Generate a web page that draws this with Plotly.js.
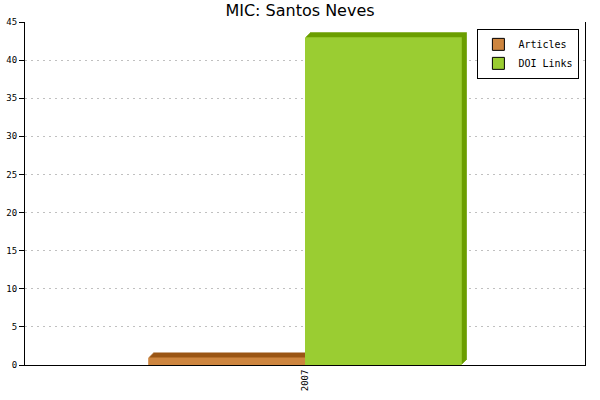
<!DOCTYPE html>
<html>
<head>
<meta charset="utf-8">
<script src="https://cdn.plot.ly/plotly-3.0.1.min.js"></script>
<style>
  html, body {margin:0; padding:0; background:#ffffff;}
  #chart {width:600px; height:400px;}
</style>
</head>
<body>
<div id="chart"></div>
<script>
// chart data
const categories = ['2007'];
const series_names = ['Articles', 'DOI Links'];
const articles = [1];
const doi_links = [43];
const front_colors = ['#CD853F', '#9ACD32'];
const side_colors = ['#9A5514', '#6B9E00'];

///////////////////////////////////////////////////////////////////////////////
function graph_create(container)
{
    let plot_traces = [];
    let bar_w = 0.28;
    let dx = 0.009;    // 3d depth, category units
    let dy = 0.65;     // 3d depth, value units
    let steps = 5;     // stair steps for the slanted corner
    let values = [articles, doi_links];

    // dark "depth" bars go first, front faces on top
    values.forEach((vals, i) => {
        for (let k = 1; k <= steps; k++) {
            let f = k / steps;
            plot_traces.push({
                type: 'bar', x: categories, y: vals,
                base: vals.map(() => dy * f),
                offset: -bar_w + i * bar_w + dx * f, width: bar_w,
                marker: {color: side_colors[i], line: {width: 0}},
                showlegend: false, hoverinfo: 'skip',
            });
        }
    });
    values.forEach((vals, i) => {
        plot_traces.push({
            type: 'bar', name: series_names[i], x: categories, y: vals,
            offset: -bar_w + i * bar_w, width: bar_w,
            marker: {color: front_colors[i], line: {width: 0}},
        });
    });

    let plot_layout =
    {
        width: 600, height: 400,
        barmode: 'overlay',
        font: {family: 'DejaVu Sans Mono', color: 'black', size: 9},
        margin: {l:25, r:15, t:22, b:35},
        plot_bgcolor: 'white',
        paper_bgcolor: 'white',
        title: {
            text: 'MIC: Santos Neves',
            font: {family: 'DejaVu Sans', size: 16, color: 'black'},
            x: 0.5, xanchor: 'center', y: 0.975, yanchor: 'middle',
        },
        showlegend: true,
        legend: {
            x: 0.99, xanchor: 'right', y: 0.98, yanchor: 'top',
            bgcolor: 'white', bordercolor: 'black', borderwidth: 1,
            font: {family: 'DejaVu Sans Mono', size: 10, color: 'black'},
            traceorder: 'normal', itemwidth: 30, tracegroupgap: 2,
        },
        xaxis: {
            type: 'category',
            range: [-0.5, 0.5],
            showline: true, linecolor: 'black', linewidth: 1,
            showgrid: false, zeroline: false,
            ticks: '', tickangle: -90,
            tickfont: {family: 'DejaVu Sans Mono', size: 9, color: 'black'},
        },
        yaxis: {
            range: [0, 45], dtick: 5,
            showline: true, linecolor: 'black', linewidth: 1, mirror: true,
            ticks: 'outside', ticklen: 5, tickcolor: 'black',
            showgrid: true, gridcolor: '#c0c0c0', griddash: '2px,4px',
            zeroline: false,
            tickfont: {family: 'DejaVu Sans Mono', size: 9, color: 'black'},
        },
    };

    let plot_container = document.getElementById(container);
    Plotly.newPlot(plot_container, plot_traces, plot_layout, {staticPlot: true});

    // legend swatches get a thin black border like the reference
    plot_container.querySelectorAll('.legendpoints path').forEach(p => {
        p.style.stroke = 'black';
        p.style.strokeWidth = '1px';
    });
    return plot_container;
}

graph_create('chart');
</script>
</body>
</html>
